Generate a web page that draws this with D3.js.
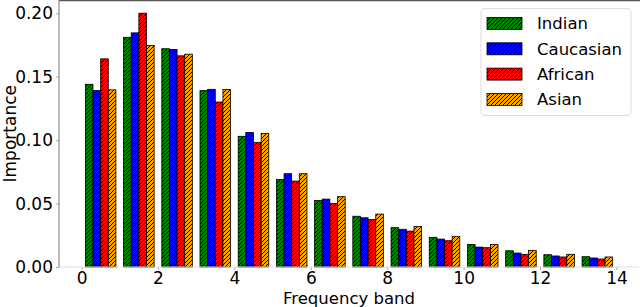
<!DOCTYPE html>
<html>
<head>
<meta charset="utf-8">
<script src="https://cdn.jsdelivr.net/npm/d3@7"></script>
<style>
  body { margin: 0; background: #fff; }
  text { font-family: "DejaVu Sans", sans-serif; fill: #000; }
</style>
</head>
<body>
<div id="chart"></div>
<script>
// frequency bands 0..13, bars centred at band + 0.5
var bands = d3.range(14)
var groups = ["Indian", "Caucasian", "African", "Asian"]
var colors = ["#008000", "#0000ff", "#ff0000", "#ffa500"]

var indian    = [0.144, 0.181, 0.172, 0.139, 0.103, 0.069, 0.0525, 0.040, 0.031, 0.0234, 0.0178, 0.0128, 0.0097, 0.0081]
var caucasian = [0.139, 0.1845, 0.1714, 0.140, 0.106, 0.0735, 0.0535, 0.0388, 0.0297, 0.0220, 0.0157, 0.0110, 0.0087, 0.0071]
var african   = [0.164, 0.200, 0.1664, 0.130, 0.0982, 0.0677, 0.0501, 0.0375, 0.0283, 0.0207, 0.0152, 0.0100, 0.0079, 0.0063]
var asian     = [0.1396, 0.1746, 0.1677, 0.1399, 0.1053, 0.0735, 0.0554, 0.0417, 0.0320, 0.0242, 0.0178, 0.0131, 0.0100, 0.0079]
var series = [indian, caucasian, african, asian]

var xTicks = [0, 2, 4, 6, 8, 10, 12, 14]
var yTicks = [0, 0.05, 0.10, 0.15, 0.20]

var W = 640, H = 307
var plotL = 59, plotR = 639, plotT = 0.5, plotB = 267

var svg = d3.select("#chart").append("svg")
    .attr("width", W)
    .attr("height", H)

// hatch patterns, one per colour
var defs = svg.append("defs")
colors.forEach(function(c, i) {
  var p = defs.append("pattern")
      .attr("id", "hatch" + i)
      .attr("patternUnits", "userSpaceOnUse")
      .attr("width", 4).attr("height", 4)
  p.append("rect").attr("width", 4).attr("height", 4).attr("fill", c)
  p.append("path")
      .attr("d", "M-1,1 l2,-2 M0,4 l4,-4 M3,5 l2,-2")
      .attr("stroke", "#000")
      .attr("stroke-width", 1)
})

var x = d3.scaleLinear().domain([-0.59, 14.59]).range([plotL, plotR])
var y = d3.scaleLinear().domain([0, 0.21]).range([plotB, plotT])
var barW = 0.2

// bars
series.forEach(function(vals, i) {
  svg.append("g")
    .selectAll("rect")
    .data(vals)
    .enter()
    .append("rect")
      .attr("x", function(d, j) { return x(bands[j] + 0.1 + i * barW) })
      .attr("width", x(barW) - x(0))
      .attr("y", function(d) { return y(d) })
      .attr("height", function(d) { return y(0) - y(d) })
      .attr("fill", "url(#hatch" + i + ")")
      .attr("stroke", "#000")
      .attr("stroke-width", 0.8)
})

// axes
svg.append("g")
    .attr("transform", "translate(0," + plotB + ")")
    .call(d3.axisBottom(x).tickValues(xTicks).tickFormat(d3.format("d")).tickSize(3).tickPadding(2))
svg.append("g")
    .attr("transform", "translate(" + plotL + ",0)")
    .call(d3.axisLeft(y).tickValues(yTicks).tickFormat(d3.format(".2f")).tickSize(3).tickPadding(3))

svg.selectAll(".domain").remove()
svg.selectAll(".tick line").attr("stroke", "#aaa")
svg.selectAll(".tick text").style("font-size", "17px").style("font-family", "DejaVu Sans")

// frame
svg.append("line").attr("x1", plotL).attr("x2", W).attr("y1", plotT).attr("y2", plotT)
    .attr("stroke", "#555").attr("stroke-width", 1.5)
svg.append("line").attr("x1", plotL).attr("x2", plotL).attr("y1", plotT).attr("y2", plotB)
    .attr("stroke", "#777").attr("stroke-width", 1)
svg.append("line").attr("x1", plotL).attr("x2", plotR).attr("y1", plotB).attr("y2", plotB)
    .attr("stroke", "#ddd").attr("stroke-width", 1)

// axis labels
svg.append("text")
    .attr("x", (plotL + plotR) / 2).attr("y", 304)
    .attr("text-anchor", "middle")
    .style("font-size", "16.5px")
    .text("Frequency band")
svg.append("text")
    .attr("transform", "translate(16," + (plotT + plotB) / 2 + ") rotate(-90)")
    .attr("text-anchor", "middle")
    .style("font-size", "17px")
    .text("Importance")

// legend
var lg = svg.append("g")
lg.append("rect")
    .attr("x", 481).attr("y", 8.5).attr("width", 150).attr("height", 107)
    .attr("rx", 4)
    .attr("fill", "#fff").attr("fill-opacity", 0.8)
    .attr("stroke", "#ddd")
groups.forEach(function(g, i) {
  var cy = 23.5 + i * 25.3
  lg.append("rect")
      .attr("x", 487).attr("y", cy - 6).attr("width", 35).attr("height", 12)
      .attr("fill", "url(#hatch" + i + ")")
      .attr("stroke", "#000").attr("stroke-width", 0.8)
  lg.append("text")
      .attr("x", 537).attr("y", cy)
      .attr("dy", "0.36em")
      .style("font-size", "16.5px")
      .text(g)
})
</script>
</body>
</html>
